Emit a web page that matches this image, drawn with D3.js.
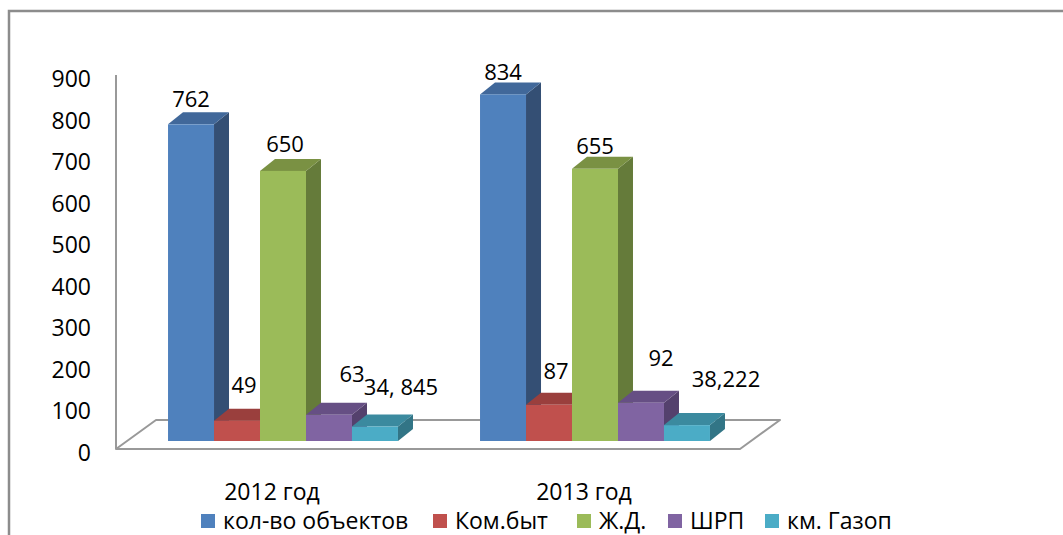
<!DOCTYPE html>
<html>
<head>
<meta charset="utf-8">
<script src="https://cdn.jsdelivr.net/npm/d3@7"></script>
<style>
  body { margin: 0; background: #fff; }
  text { font-family: "Open Sans", Lato, sans-serif; fill: #000; }
</style>
</head>
<body>
<script>
// Data
const years = ['2012 год', '2013 год'];
const seriesNames = ['кол-во объектов', 'Ком.быт', 'Ж.Д.', 'ШРП', 'км. Газоп'];
const objects = [762, 834];
const komByt = [49, 87];
const zhd = [650, 655];
const shrp = [63, 92];
const kmGas = [34.845, 38.222];
const kmGasLabels = ['34, 845', '38,222'];
const yTicks = [0, 100, 200, 300, 400, 500, 600, 700, 800, 900];

const values = [objects, komByt, zhd, shrp, kmGas];

// Colours: front, top, side
const colors = [
  ['#4f81bd', '#41689a', '#344f74'],
  ['#c0504d', '#9a3f3d', '#7f3533'],
  ['#9bbb59', '#7a9143', '#657b3a'],
  ['#8064a2', '#664f84', '#54416d'],
  ['#4bacc6', '#3b8a9f', '#327586']
];

const width = 1063;
const height = 535;

const svg = d3.select('body')
  .append('svg')
  .attr('width', width)
  .attr('height', height);

// outer frame (cropped on the right and bottom)
svg.append('path')
  .attr('d', 'M9,' + (height + 5) + 'V11H' + (width + 5))
  .attr('fill', 'none')
  .attr('stroke', '#8c8c8c')
  .attr('stroke-width', 2.5);

// 3D geometry
const floorDx = 40, floorDy = 29;   // full floor depth
const barOff = 8;                   // bars sit this far behind the front edge
const depthX = 15, depthY = 12;     // bar depth

const y = d3.scaleLinear().domain([0, 900]).range([449, 75]);
const xFront = d3.scaleBand().domain(years).range([116, 740]);
const x0 = d3.scaleBand().domain(years).range([127, 751])
  .paddingInner(0.263).paddingOuter(0.1315);
const x1 = d3.scaleBand().domain(d3.range(seriesNames.length)).range([0, x0.bandwidth()]);

// value axis line
svg.append('line')
  .attr('x1', 116).attr('x2', 116)
  .attr('y1', y(900)).attr('y2', y(0))
  .attr('stroke', '#999').attr('stroke-width', 2);

// floor
const fx0 = xFront.range()[0], fx1 = xFront.range()[1], fy = y(0);
svg.append('path')
  .attr('d', `M${fx0},${fy}L${fx0 + floorDx},${fy - floorDy}L${fx1 + floorDx},${fy - floorDy}L${fx1},${fy}Z`)
  .attr('fill', 'none')
  .attr('stroke', '#999')
  .attr('stroke-width', 2)
  .attr('stroke-linejoin', 'round');

// tick labels
svg.append('g')
  .selectAll('text')
  .data(yTicks)
  .join('text')
  .attr('x', 91)
  .attr('y', d => y(d) + 3)
  .attr('text-anchor', 'end')
  .attr('dominant-baseline', 'central')
  .style('font-size', '23px')
  .text(d => d);

// bars
const bars = [];
years.forEach((yr, gi) => {
  values.forEach((vals, si) => {
    bars.push({ gi, si, v: vals[gi], x: x0(yr) + x1(si), w: x1.bandwidth() });
  });
});

const yb = v => y(v) - barOff;
const base = yb(0);

const g = svg.append('g');
bars.forEach(b => {
  const top = yb(b.v);
  const c = colors[b.si];
  // side
  g.append('path')
    .attr('d', `M${b.x + b.w},${top}L${b.x + b.w + depthX},${top - depthY}L${b.x + b.w + depthX},${base - depthY}L${b.x + b.w},${base}Z`)
    .attr('fill', c[2]);
  // top
  g.append('path')
    .attr('d', `M${b.x},${top}L${b.x + depthX},${top - depthY}L${b.x + b.w + depthX},${top - depthY}L${b.x + b.w},${top}Z`)
    .attr('fill', c[1]);
  // front
  g.append('rect')
    .attr('x', b.x).attr('y', top)
    .attr('width', b.w).attr('height', base - top)
    .attr('fill', c[0]);
});

// data labels (small manual nudges like the original)
const labelNudge = [
  [[0, -26], [0, -23]],
  [[7, -37], [7, -35]],
  [[2, -28], [0, -24]],
  [[23, -42], [20, -46]],
  [[26, -41], [39, -47]]
];
svg.append('g')
  .selectAll('text')
  .data(bars)
  .join('text')
  .attr('x', d => d.x + d.w / 2 + labelNudge[d.si][d.gi][0])
  .attr('y', d => yb(d.v) + labelNudge[d.si][d.gi][1])
  .attr('text-anchor', 'middle')
  .attr('dominant-baseline', 'central')
  .style('font-size', '22px')
  .text(d => d.si === 4 ? kmGasLabels[d.gi] : d.v);

// category labels
svg.append('g')
  .selectAll('text')
  .data(years)
  .join('text')
  .attr('x', d => xFront(d) + xFront.bandwidth() / 2)
  .attr('y', 500)
  .attr('text-anchor', 'middle')
  .style('font-size', '23px')
  .text(d => d);

// legend
const legendX = [201, 433, 577, 668, 765];
const legend = svg.append('g')
  .selectAll('g')
  .data(seriesNames)
  .join('g')
  .attr('transform', (d, i) => `translate(${legendX[i]},514)`);
legend.append('rect')
  .attr('width', 14).attr('height', 14)
  .attr('fill', (d, i) => colors[i][0]);
legend.append('text')
  .attr('x', 22)
  .attr('y', 15)
  .style('font-size', '23px')
  .text(d => d);
</script>
</body>
</html>
